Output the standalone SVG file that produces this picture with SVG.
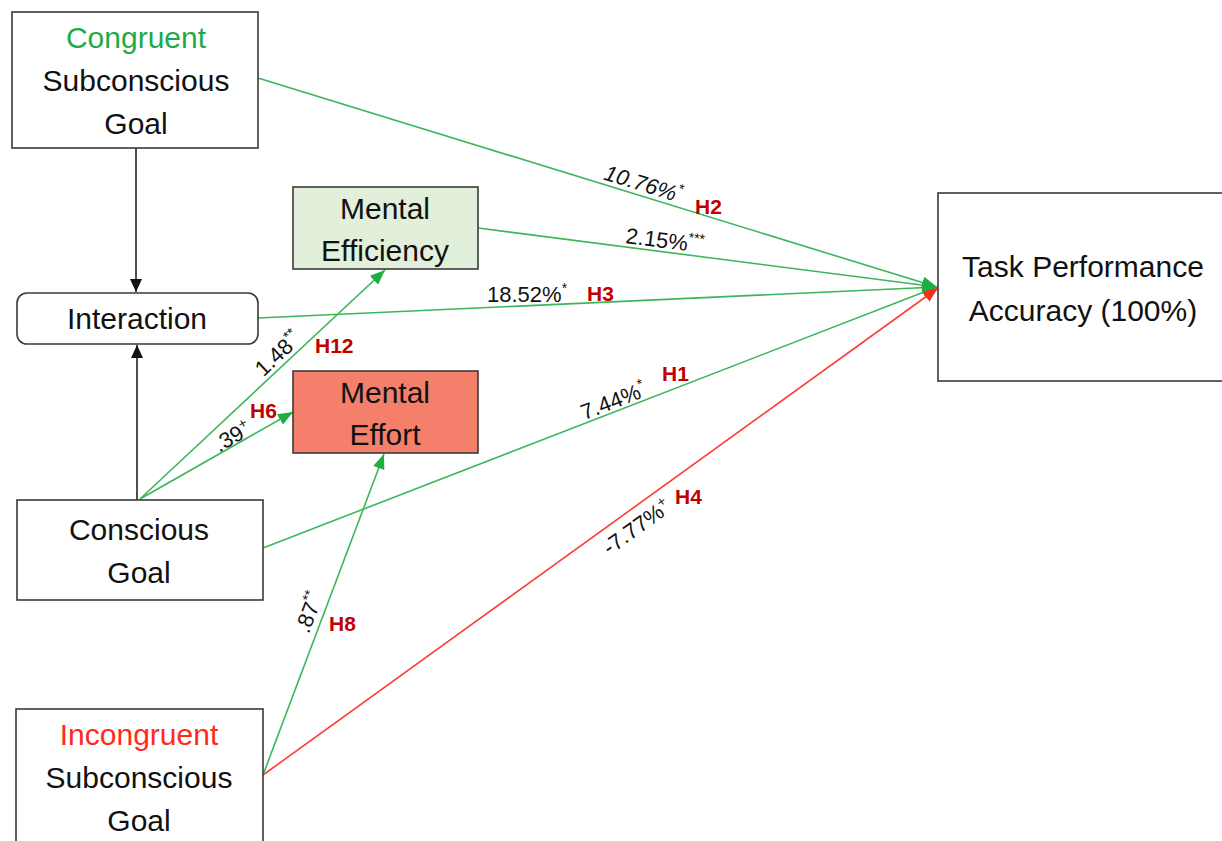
<svg xmlns="http://www.w3.org/2000/svg" width="1222" height="841" viewBox="0 0 1222 841">
<defs>
<style>
.box{fill:#ffffff;stroke:#3a3a3a;stroke-width:1.6}
.t{font-family:"Liberation Sans",Arial,sans-serif;font-size:30px;fill:#111;text-anchor:middle}
.lbl{font-family:"Liberation Sans",Arial,sans-serif;font-size:22px;fill:#111}
.sup{font-size:14px}
.h{font-family:"Liberation Sans",Arial,sans-serif;font-size:21px;font-weight:bold;fill:#c00000}
.g{stroke:#3cb659;stroke-width:1.6;fill:none}
.r{stroke:#ff3b30;stroke-width:1.6;fill:none}
.k{stroke:#222;stroke-width:1.6;fill:none}
</style>
<marker id="ag" markerUnits="userSpaceOnUse" markerWidth="16" markerHeight="12" refX="15" refY="6" orient="auto"><path d="M0,0 L15,6 L0,12 z" fill="#1fae3f"/></marker>
<marker id="ar" markerUnits="userSpaceOnUse" markerWidth="16" markerHeight="12" refX="15" refY="6" orient="auto"><path d="M0,0 L15,6 L0,12 z" fill="#ff2a1a"/></marker>
<marker id="ak" markerUnits="userSpaceOnUse" markerWidth="14" markerHeight="12" refX="13" refY="6" orient="auto"><path d="M0,0 L13,6 L0,12 z" fill="#111"/></marker>
</defs>

<g id="connectors">
<line class="k" x1="136" y1="148" x2="136" y2="292" marker-end="url(#ak)"/>
<line class="k" x1="137" y1="500" x2="137" y2="345" marker-end="url(#ak)"/>
<line class="g" x1="258" y1="78" x2="937" y2="287" marker-end="url(#ag)"/>
<line class="g" x1="478" y1="228" x2="937" y2="287" marker-end="url(#ag)"/>
<line class="g" x1="258" y1="318" x2="937" y2="287" marker-end="url(#ag)"/>
<line class="g" x1="263" y1="548" x2="937" y2="287" marker-end="url(#ag)"/>
<line class="r" x1="263" y1="775" x2="938" y2="288" marker-end="url(#ar)"/>
<line class="g" x1="263" y1="775" x2="384" y2="454" marker-end="url(#ag)"/>
<line class="g" x1="140" y1="499" x2="385" y2="270" marker-end="url(#ag)"/>
<line class="g" x1="140" y1="499" x2="293" y2="412" marker-end="url(#ag)"/>

<text class="lbl" font-style="italic" text-anchor="middle" transform="translate(641,191) rotate(17.1)">10.76%<tspan class="sup" dy="-9">*</tspan></text>
<text class="h" x="695" y="214">H2</text>
<text class="lbl" text-anchor="middle" transform="translate(664,248) rotate(7.3)">2.15%<tspan class="sup" dy="-9">***</tspan></text>
<text class="lbl" x="487" y="302">18.52%<tspan class="sup" dy="-9">*</tspan></text>
<text class="h" x="587" y="301">H3</text>
<text class="lbl" text-anchor="middle" transform="translate(283,359) rotate(-43.3)">1.48<tspan class="sup" dy="-9">**</tspan></text>
<text class="h" x="315" y="353">H12</text>
<text class="lbl" text-anchor="middle" transform="translate(236,443) rotate(-29.9)">.39<tspan class="sup" dy="-9">+</tspan></text>
<text class="h" x="250" y="418">H6</text>
<text class="lbl" text-anchor="middle" transform="translate(616,408) rotate(-21.1)">7.44%<tspan class="sup" dy="-9">*</tspan></text>
<text class="h" x="662" y="381">H1</text>
<text class="lbl" text-anchor="middle" transform="translate(641,533) rotate(-35.9)">-7.77%<tspan class="sup" dy="-9">+</tspan></text>
<text class="h" x="675" y="504">H4</text>
<text class="lbl" text-anchor="middle" transform="translate(316,615) rotate(-69.3)">.87<tspan class="sup" dy="-9">**</tspan></text>
<text class="h" x="329" y="631">H8</text>
</g>

<g id="congruent">
<rect class="box" x="12" y="12" width="246" height="136"/>
<text class="t" x="136" y="48" style="fill:#1faa4a">Congruent</text>
<text class="t" x="136" y="91">Subconscious</text>
<text class="t" x="136" y="134">Goal</text>
</g>

<g id="interaction">
<rect class="box" x="17" y="293" width="241" height="51" rx="10"/>
<text class="t" x="137" y="329">Interaction</text>
</g>

<g id="mental-efficiency">
<rect class="box" x="293" y="187" width="185" height="82" style="fill:#e2efda"/>
<text class="t" x="385" y="219">Mental</text>
<text class="t" x="385" y="261">Efficiency</text>
</g>

<g id="mental-effort">
<rect class="box" x="293" y="371" width="185" height="82" style="fill:#f4806b"/>
<text class="t" x="385" y="403">Mental</text>
<text class="t" x="385" y="445">Effort</text>
</g>

<g id="conscious">
<rect class="box" x="17" y="500" width="246" height="100"/>
<text class="t" x="139" y="540">Conscious</text>
<text class="t" x="139" y="583">Goal</text>
</g>

<g id="incongruent">
<rect class="box" x="16" y="709" width="247" height="140"/>
<text class="t" x="139" y="745" style="fill:#ff2a1a">Incongruent</text>
<text class="t" x="139" y="788">Subconscious</text>
<text class="t" x="139" y="831">Goal</text>
</g>

<g id="task-performance">
<rect class="box" x="938" y="193" width="290" height="188"/>
<text class="t" x="1083" y="277">Task Performance</text>
<text class="t" x="1083" y="321">Accuracy (100%)</text>
</g>
</svg>
